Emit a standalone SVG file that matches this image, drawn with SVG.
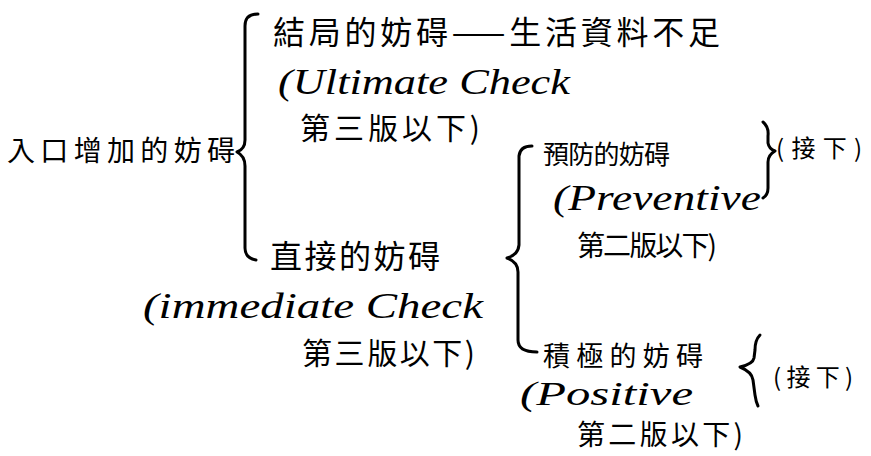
<svg xmlns="http://www.w3.org/2000/svg" width="871" height="456" viewBox="0 0 871 456">
<style>
.cjk{font-family:"Noto Sans CJK TC","Noto Sans CJK SC",sans-serif;fill:#000}
.en{font-family:"Liberation Serif","DejaVu Serif",serif;font-style:italic;fill:#000}
.brace{fill:none;stroke:#000;stroke-width:3;stroke-linecap:round;stroke-linejoin:round}
</style>
<rect width="871" height="456" fill="#fff"/>
<g id="connectors">
<path class="brace" d="M258,14 Q245,14 245,26 L245,140 Q245,149 237,152 Q245,156 245,166 L245,248 Q245,258 256,260"/>
<path class="brace" d="M532,146 Q520,146 519,156 L519,245 Q518,255 507,258 Q518,262 518,272 L518,340 Q518,352 537,352"/>
<path class="brace" d="M763,122 Q769,127 768,136 L768,143 Q769,149 775,151 Q768,155 768,162 L768,188 Q768,195 763,198"/>
<path class="brace" d="M760,335 Q755,340 755,350 L754,358 Q753,364 740,367 Q752,372 753,380 L755,395 Q756,402 758,406"/>
</g>
<g id="root">
<text class="cjk" x="7" y="161" font-size="28" textLength="228" lengthAdjust="spacing">入口增加的妨碍</text>
</g>
<g id="ultimate">
<text class="cjk" x="273" y="44" font-size="32" textLength="447" lengthAdjust="spacing">結局的妨碍——生活資料不足</text>
<text class="en" x="278" y="94" font-size="36" textLength="292" lengthAdjust="spacingAndGlyphs">(Ultimate Check</text>
<text class="cjk" x="300" y="139" font-size="30" textLength="180" lengthAdjust="spacing">第三版以下)</text>
</g>
<g id="immediate">
<text class="cjk" x="270" y="268" font-size="32" textLength="170" lengthAdjust="spacing">直接的妨碍</text>
<text class="en" x="143" y="318" font-size="36" textLength="340" lengthAdjust="spacingAndGlyphs">(immediate Check</text>
<text class="cjk" x="302" y="364" font-size="30" textLength="173" lengthAdjust="spacing">第三版以下)</text>
</g>
<g id="preventive">
<text class="cjk" x="543" y="164" font-size="26" textLength="127" lengthAdjust="spacing">預防的妨碍</text>
<text class="en" x="553" y="210" font-size="35" textLength="208" lengthAdjust="spacingAndGlyphs">(Preventive</text>
<text class="cjk" x="577" y="256" font-size="28" textLength="140" lengthAdjust="spacing">第二版以下)</text>
</g>
<g id="preventive-note">
<text class="cjk" x="776" y="157" font-size="24" textLength="86" lengthAdjust="spacing">(接下)</text>
</g>
<g id="positive">
<text class="cjk" x="543" y="366" font-size="27" textLength="160" lengthAdjust="spacing">積極的妨碍</text>
<text class="en" x="520" y="405" font-size="34" textLength="173" lengthAdjust="spacingAndGlyphs">(Positive</text>
<text class="cjk" x="577" y="445" font-size="28" textLength="166" lengthAdjust="spacing">第二版以下)</text>
</g>
<g id="positive-note">
<text class="cjk" x="773" y="386" font-size="24" textLength="80" lengthAdjust="spacing">(接下)</text>
</g>
</svg>
